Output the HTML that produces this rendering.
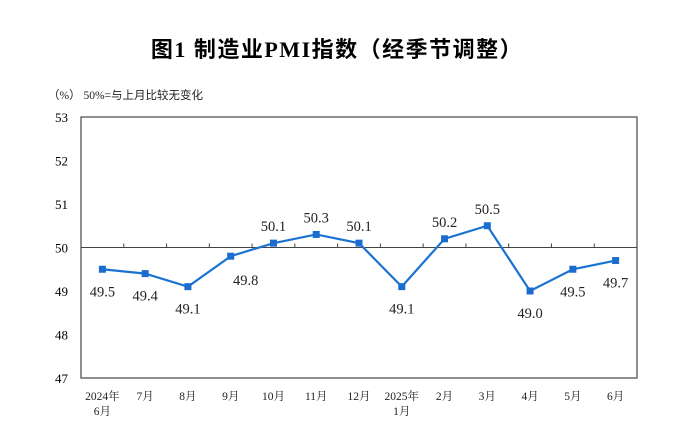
<!DOCTYPE html>
<html><head><meta charset="utf-8"><style>
body{margin:0;background:#fff;}
svg{display:block;font-family:"Liberation Serif","Noto Serif CJK SC",serif;}
</style></head><body>
<svg width="673" height="445" xmlns="http://www.w3.org/2000/svg">
<text x="337" y="57" text-anchor="middle" font-size="22" letter-spacing="1.5" font-weight="bold" font-family="'Liberation Serif','Noto Sans CJK SC',serif">图1  制造业PMI指数（经季节调整）</text>
<text x="48" y="99" font-size="11.5" fill="#222" font-family="'Liberation Serif','Noto Sans CJK SC',serif">（%）  50%=与上月比较无变化</text>
<rect x="81" y="117" width="556" height="261" fill="none" stroke="#555" stroke-width="1.3"/>
<g id="yaxis"></g>
<g id="xaxis"></g>
<g id="series"></g>
</svg>
<script>
const categories=[["2024年","6月"],["7月"],["8月"],["9月"],["10月"],["11月"],["12月"],["2025年","1月"],["2月"],["3月"],["4月"],["5月"],["6月"]];
const values=[49.5,49.4,49.1,49.8,50.1,50.3,50.1,49.1,50.2,50.5,49.0,49.5,49.7];
const yTicks=[47,48,49,50,51,52,53];
const NS="http://www.w3.org/2000/svg";
const L=81,R=637,T=117,B=378,yMin=47,yMax=53;
const bw=(R-L)/categories.length;
const xS=i=>L+bw*(i+0.5);
const yS=v=>B-(v-yMin)/(yMax-yMin)*(B-T);
function mk(tag,attrs,parent,txt){const e=document.createElementNS(NS,tag);for(const k in attrs)e.setAttribute(k,attrs[k]);if(txt!=null)e.textContent=txt;parent.appendChild(e);return e;}
const ya=document.getElementById('yaxis'),xa=document.getElementById('xaxis'),sg=document.getElementById('series');
yTicks.forEach(t=>{const e=mk('text',{x:L-13,y:yS(t)+5,'text-anchor':'end','font-size':'13'},ya,String(t));

});
const ref=mk('line',{x1:L,x2:R,y1:yS(50),y2:yS(50),stroke:'#444','stroke-width':1},xa);


for(let i=1;i<categories.length;i++){const tk=mk('line',{x1:L+bw*i,x2:L+bw*i,y1:yS(50),y2:yS(50)-4,stroke:'#444','stroke-width':1},xa);

}
categories.forEach((c,i)=>{c.forEach((s,j)=>{const e=mk('text',{x:xS(i),y:400+j*15,'text-anchor':'middle','font-size':'11.5',fill:'#222'},xa,s);

});});
const pts=values.map((v,i)=>xS(i)+','+yS(v)).join(' ');
const line=mk('polyline',{points:pts,fill:'none',stroke:'#1a73d1','stroke-width':2.2},sg);


values.forEach((v,i)=>{const x=xS(i),y=yS(v);
const m=mk('rect',{x:x-3.5,y:y-3.5,width:7,height:7,fill:'#1a6ccf'},sg);


let lx=x,ly;
if(v>=50){ly=y-12;}else{ly=y+27;}
if(i===3){lx=x+15;ly=y+29;}
const t=mk('text',{x:lx,y:ly,'text-anchor':'middle','font-size':'14.5',fill:'#222'},sg,v.toFixed(1));

});
</script>
</body></html>
